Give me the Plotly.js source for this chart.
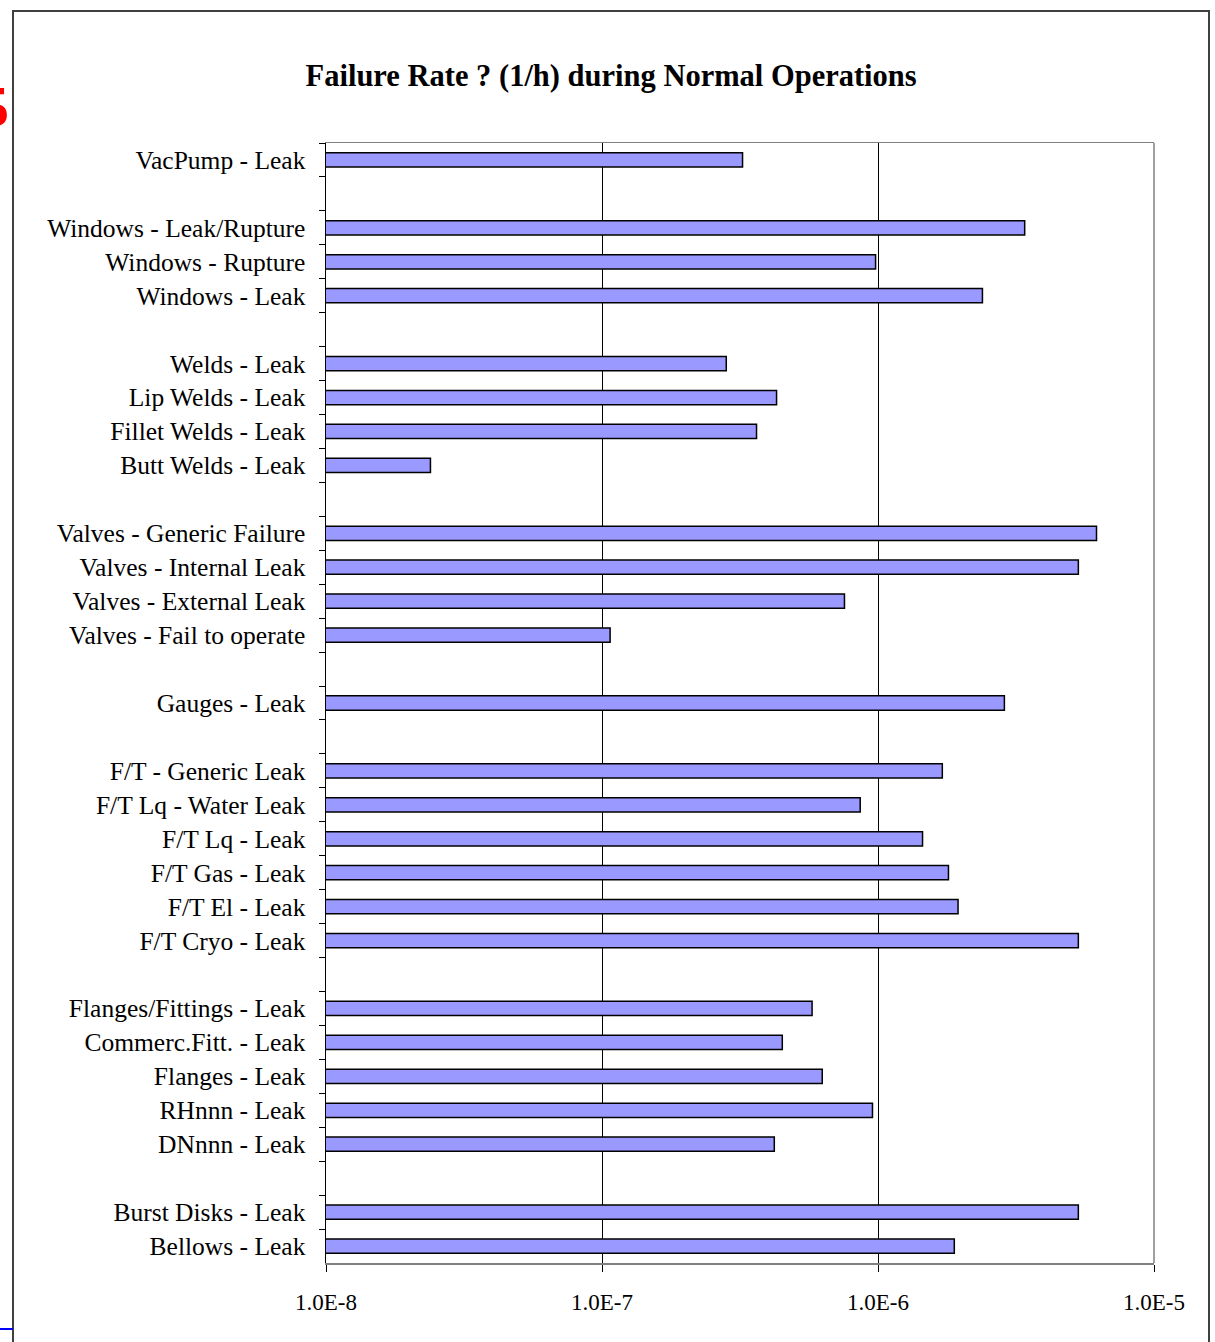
<!DOCTYPE html>
<html>
<head>
<meta charset="utf-8">
<script src="https://cdn.plot.ly/plotly-3.0.1.min.js"></script>
<style>
  html, body { margin: 0; padding: 0; background: #ffffff; }
  #chart { width: 1215px; height: 1342px; }
</style>
</head>
<body>
<div id="chart"></div>
<script>
// Categories top to bottom (blank rows are group separators)
const categories = [
  "VacPump - Leak",
  " ",
  "Windows - Leak/Rupture",
  "Windows - Rupture",
  "Windows - Leak",
  "  ",
  "Welds - Leak",
  "Lip Welds - Leak",
  "Fillet Welds - Leak",
  "Butt Welds - Leak",
  "   ",
  "Valves - Generic Failure",
  "Valves - Internal Leak",
  "Valves - External Leak",
  "Valves - Fail to operate",
  "    ",
  "Gauges - Leak",
  "     ",
  "F/T - Generic Leak",
  "F/T Lq - Water Leak",
  "F/T Lq - Leak",
  "F/T Gas - Leak",
  "F/T El - Leak",
  "F/T Cryo - Leak",
  "      ",
  "Flanges/Fittings - Leak",
  "Commerc.Fitt. - Leak",
  "Flanges - Leak",
  "RHnnn - Leak",
  "DNnnn - Leak",
  "       ",
  "Burst Disks - Leak",
  "Bellows - Leak"
];

// Failure rate (1/h), null for separator rows
const failureRates = [
  3.23e-7,
  null,
  3.40e-6,
  9.8e-7,
  2.39e-6,
  null,
  2.82e-7,
  4.29e-7,
  3.63e-7,
  2.39e-8,
  null,
  6.19e-6,
  5.32e-6,
  7.56e-7,
  1.07e-7,
  null,
  2.87e-6,
  null,
  1.71e-6,
  8.62e-7,
  1.45e-6,
  1.80e-6,
  1.95e-6,
  5.32e-6,
  null,
  5.77e-7,
  4.50e-7,
  6.28e-7,
  9.55e-7,
  4.21e-7,
  null,
  5.32e-6,
  1.89e-6
];

const xTickValues = [1e-8, 1e-7, 1e-6, 1e-5];
const xTickLabels = ["1.0E-8", "1.0E-7", "1.0E-6", "1.0E-5"];

const titleText = "Failure Rate ? (1/h) during Normal Operations";

const serif = "Liberation Serif, Times New Roman, serif";

const trace = {
  type: "bar",
  orientation: "h",
  x: failureRates,
  y: categories,
  width: 0.42,
  marker: {
    color: "#9999FF",
    line: { color: "#000000", width: 1.5 }
  },
  hoverinfo: "x+y"
};

const layout = {
  width: 1215,
  height: 1342,
  paper_bgcolor: "#ffffff",
  plot_bgcolor: "#ffffff",
  margin: { l: 326, r: 61, t: 143, b: 79, pad: 0 },
  showlegend: false,
  title: {
    text: "<b>" + titleText + "</b>",
    font: { family: serif, size: 30.5, color: "#000000" },
    xref: "container", x: 0.503, xanchor: "center",
    yref: "container", y: 1 - 75 / 1342, yanchor: "middle"
  },
  xaxis: {
    type: "log",
    range: [-8, -5],
    tickvals: xTickValues,
    ticktext: xTickLabels,
    ticks: "outside",
    ticklen: 7,
    tickwidth: 1,
    tickcolor: "#000000",
    showgrid: true,
    gridcolor: "#000000",
    gridwidth: 1,
    showline: true,
    linecolor: "#808080",
    linewidth: 1.5,
    mirror: true,
    zeroline: false,
    ticklabelstandoff: 11,
    tickfont: { family: serif, size: 23, color: "#000000" }
  },
  yaxis: {
    type: "category",
    categoryorder: "array",
    categoryarray: categories,
    autorange: "reversed",
    tickson: "boundaries",
    ticks: "outside",
    ticklen: 6,
    tickwidth: 1,
    tickcolor: "#000000",
    showgrid: false,
    showline: true,
    linecolor: "#000000",
    linewidth: 1.5,
    zeroline: false,
    ticklabelstandoff: 14,
    tickfont: { family: serif, size: 25.5, color: "#000000" }
  },
  shapes: [
    // right border of plot area
    { type: "line", xref: "paper", yref: "paper", x0: 1, x1: 1, y0: 0, y1: 1,
      line: { color: "#808080", width: 1.5 } },
    // outer chart frame
    { type: "rect", xref: "paper", yref: "paper",
      x0: (13 - 326) / 828, x1: (1209 - 326) / 828,
      y0: -(1350 - 1263) / 1120, y1: 1 + (143 - 11) / 1120,
      line: { color: "#404040", width: 2 }, fillcolor: "rgba(0,0,0,0)", layer: "below" },
    // blue fragment at lower left
    { type: "line", xref: "paper", yref: "paper",
      x0: (0 - 326) / 828, x1: (13 - 326) / 828,
      y0: -(1329 - 1263) / 1120, y1: -(1329 - 1263) / 1120,
      line: { color: "#0000FF", width: 2 } }
  ],
  annotations: [
    { text: "<b>5</b>", xref: "paper", yref: "paper",
      x: (-6 - 326) / 828, y: 1 + (143 - 106) / 1120,
      xanchor: "center", yanchor: "middle", showarrow: false,
      font: { family: serif, size: 58, color: "#FF0000" } }
  ]
};

Plotly.newPlot("chart", [trace], layout, { staticPlot: true, displayModeBar: false });
</script>
</body>
</html>
